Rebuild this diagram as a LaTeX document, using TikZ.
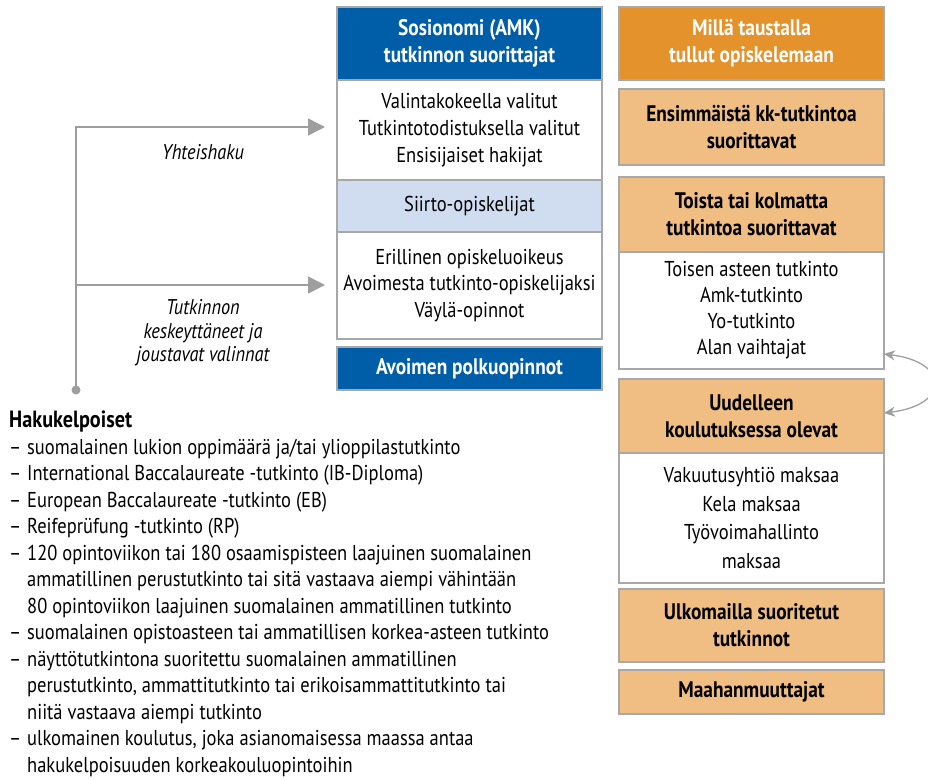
\documentclass[tikz,border=0pt]{standalone}
\usepackage{fontspec}
\setmainfont{PT Sans}[FakeStretch=0.86]
\usetikzlibrary{arrows.meta,calc}
\definecolor{dblue}{RGB}{0,94,168}
\definecolor{orng}{RGB}{227,146,44}
\definecolor{lorng}{RGB}{240,190,130}
\definecolor{lblue}{RGB}{208,220,239}
\definecolor{bord}{RGB}{168,168,168}
\definecolor{arr}{RGB}{158,158,158}
\tikzset{
  box/.style={draw=bord, line width=1.2pt, minimum width=265pt, inner sep=0pt, align=center,
    font=\fontsize{21.5}{26.8}\selectfont},
  headbox/.style={box, fill=dblue, text=white, font=\fontsize{22.5}{27}\selectfont\bfseries},
  orbox/.style={box, fill=orng, text=white, font=\fontsize{22.5}{27}\selectfont\bfseries},
  lobox/.style={box, fill=lorng, text=black, font=\fontsize{22.5}{27}\selectfont\bfseries},
  whbox/.style={box, fill=white},
  lbbox/.style={box, fill=lblue},
  flow/.style={draw=arr, line width=1.5pt, -{Triangle[length=17pt,width=17pt]}, arr},
  lbl/.style={font=\fontsize{21.3}{23.5}\selectfont\itshape, align=center, inner sep=0pt}
}
\begin{document}
\begin{tikzpicture}[x=1pt,y=-1pt]
\useasboundingbox (0,0) rectangle (928,779);
% middle column
\node[headbox, minimum height=73pt] (h1) at (469.5,43.5) {Sosionomi (AMK)\\tutkinnon suorittajat};
\node[whbox, minimum height=100pt] (w1) at (469.5,130) {Valintakokeella valitut\\Tutkintotodistuksella valitut\\Ensisijaiset hakijat};
\node[lbbox, minimum height=52pt] (s1) at (469.5,206) {Siirto-opiskelijat};
\node[whbox, minimum height=107pt] (w2) at (469.5,285.5) {Erillinen opiskeluoikeus\\Avoimesta tutkinto-opiskelijaksi\\Väylä-opinnot};
\node[headbox, minimum height=43pt] (ap) at (469.5,368.5) {Avoimen polkuopinnot};
% right column
\node[orbox, minimum height=73pt] (rh) at (751.5,43.5) {Millä taustalla\\tullut opiskelemaan};
\node[lobox, minimum height=76pt] (r1) at (751.5,127) {Ensimmäistä kk-tutkintoa\\suorittavat};
\node[lobox, minimum height=75pt] (r2) at (751.5,214.5) {Toista tai kolmatta\\tutkintoa suorittavat};
\node[whbox, minimum height=117pt, font=\fontsize{21.5}{26}\selectfont] (rw1) at (751.5,310.5) {Toisen asteen tutkinto\\Amk-tutkinto\\Yo-tutkinto\\Alan vaihtajat};
\node[lobox, minimum height=74pt] (r3) at (751.5,416) {Uudelleen\\koulutuksessa olevat};
\node[whbox, minimum height=130pt, font=\fontsize{21.5}{28.5}\selectfont] (rw2) at (751.5,518) {Vakuutusyhtiö maksaa\\Kela maksaa\\Työvoimahallinto\\maksaa};
\node[lobox, minimum height=73pt] (r4) at (751.5,625.5) {Ulkomailla suoritetut\\tutkinnot};
\node[lobox, minimum height=44pt] (r5) at (751.5,692) {Maahanmuuttajat};
% curved double arrow
\coordinate (ca) at (884,354);
\coordinate (cb) at (884,413);
\draw[arr, line width=1.3pt, {Stealth[length=11pt,width=10pt]}-{Stealth[length=11pt,width=10pt]}]
  (ca) .. controls (950,362) and (950,405) .. (cb);
% left flows
\coordinate (dot) at (76,390);
\fill[arr] (dot) circle (4.5pt);
\coordinate (t1) at (337,127);
\coordinate (t2) at (337,285);
\draw[flow, shorten >=12pt] (dot) -- (76,127) -- (t1);
\draw[flow, shorten >=12pt] (76,285) -- (t2);
\node[lbl] (l1) at (203,152) {Yhteishaku};
\node[lbl] (l2) at (203,333) {Tutkinnon\\keskeyttäneet ja\\joustavat valinnat};
% bottom text
\node[anchor=north west, align=left, inner sep=0pt, font=\fontsize{21.5}{26.5}\selectfont] (hk) at (9,411) {%
{\fontsize{23.5}{26.5}\selectfont\bfseries Hakukelpoiset}\\
\makebox[18pt][l]{–}suomalainen lukion oppimäärä ja/tai ylioppilastutkinto\\
\makebox[18pt][l]{–}International Baccalaureate -tutkinto (IB-Diploma)\\
\makebox[18pt][l]{–}European Baccalaureate -tutkinto (EB)\\
\makebox[18pt][l]{–}Reifeprüfung -tutkinto (RP)\\
\makebox[18pt][l]{–}120 opintoviikon tai 180 osaamispisteen laajuinen suomalainen\\
\hspace*{18pt}ammatillinen perustutkinto tai sitä vastaava aiempi vähintään\\
\hspace*{18pt}80 opintoviikon laajuinen suomalainen ammatillinen tutkinto\\
\makebox[18pt][l]{–}suomalainen opistoasteen tai ammatillisen korkea-asteen tutkinto\\
\makebox[18pt][l]{–}näyttötutkintona suoritettu suomalainen ammatillinen\\
\hspace*{18pt}perustutkinto, ammattitutkinto tai erikoisammattitutkinto tai\\
\hspace*{18pt}niitä vastaava aiempi tutkinto\\
\makebox[18pt][l]{–}ulkomainen koulutus, joka asianomaisessa maassa antaa\\
\hspace*{18pt}hakukelpoisuuden korkeakouluopintoihin};
\end{tikzpicture}
\end{document}
